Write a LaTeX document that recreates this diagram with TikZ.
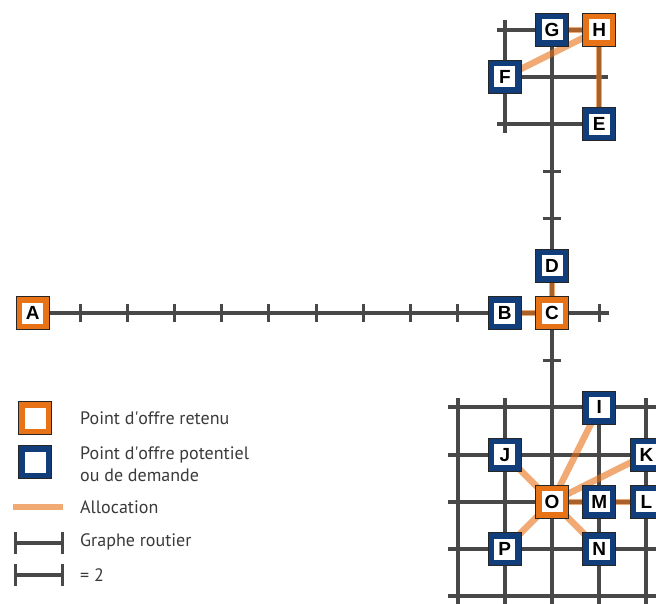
\documentclass[tikz,border=0pt]{standalone}
\usepackage{fontspec}
\setmainfont{PT Sans}
\newfontfamily\lettfont{Liberation Sans}
\definecolor{nodeorange}{RGB}{232,114,22}
\definecolor{nodeblue}{RGB}{17,61,122}
\definecolor{roadgray}{RGB}{72,72,72}
\definecolor{legtext}{RGB}{58,58,58}
\pgfdeclarelayer{roadlayer}
\pgfdeclarelayer{alloclayer}
\pgfsetlayers{roadlayer,alloclayer,main}
\tikzset{
  site/.style={rectangle, minimum size=33pt, inner sep=0pt, draw=black!85, line width=0.7pt,
    font=\lettfont\bfseries\fontsize{19}{19}\selectfont,
    path picture={\fill[white] ([shift={(-10.5pt,-10.5pt)}]path picture bounding box.center) rectangle ([shift={(10.5pt,10.5pt)}]path picture bounding box.center);}},
  retenu/.style={site, fill=nodeorange},
  potentiel/.style={site, fill=nodeblue},
  roadline/.style={draw=roadgray, line width=4pt},
  roadtick/.style={draw=roadgray, line width=3pt},
  alloc/.style={draw=nodeorange, line width=6.5pt, draw opacity=0.6},
  legtxt/.style={anchor=west, inner sep=0pt, text=legtext, font=\fontsize{18}{22}\selectfont, align=left},
}
\begin{document}
\begin{tikzpicture}[x=1pt,y=-1pt]
\useasboundingbox (0,0) rectangle (656,604);
\clip (0,0) rectangle (656,604);
\begin{scope}[xshift=552pt, yshift=-313pt, x=47.2pt, y=-47.2pt]
  % nodes
  \node[retenu] (A) at (-11,0) {A};
  \node[potentiel] (B) at (-1,0) {B};
  \node[retenu] (C) at (0,0) {C};
  \node[potentiel] (D) at (0,-1) {D};
  \node[potentiel] (E) at (1,-4) {E};
  \node[potentiel] (F) at (-1,-5) {F};
  \node[potentiel] (G) at (0,-6) {G};
  \node[retenu] (H) at (1,-6) {H};
  \node[potentiel] (I) at (1,2) {I};
  \node[potentiel] (J) at (-1,3) {J};
  \node[potentiel] (K) at (2,3) {K};
  \node[retenu] (O) at (0,4) {O};
  \node[potentiel] (M) at (1,4) {M};
  \node[potentiel] (L) at (2,4) {L};
  \node[potentiel] (P) at (-1,5) {P};
  \node[potentiel] (N) at (1,5) {N};
  % roads
  \begin{pgfonlayer}{roadlayer}
    \draw[roadline] (A.center) -- (1.21,0);
    \foreach \t in {-10,...,-2,1} \draw[roadtick] (\t,-0.2) -- (\t,0.2);
    \draw[roadline] (G.center) -- (0,6.3);
    \foreach \t in {-3,-2,1} \draw[roadtick] (-0.2,\t) -- (0.2,\t);
    % top grid
    \draw[roadline] (-1.17,-6) -- (H.center);
    \draw[roadline] (F.center) -- (1.19,-5);
    \draw[roadline] (-1.17,-4) -- (E.center);
    \draw[roadline] (-1,-6.2) -- (-1,-3.81);
    \draw[roadline] (H.center) -- (E.center);
    % lower grid
    \foreach \r in {2,...,6} \draw[roadline] (-2.2,\r) -- (2.4,\r);
    \foreach \c in {-2,-1,1,2} \draw[roadline] (\c,1.8) -- (\c,6.3);
  \end{pgfonlayer}
  % allocations
  \begin{pgfonlayer}{alloclayer}
    \draw[alloc] (C.center) -- (B.center);
    \draw[alloc] (C.center) -- (D.center);
    \draw[alloc] (H.center) -- (G.center);
    \draw[alloc] (H.center) -- (F.center);
    \draw[alloc] (H.center) -- (E.center);
    \draw[alloc] (O.center) -- (I.center);
    \draw[alloc] (O.center) -- (K.center);
    \draw[alloc] (O.center) -- (J.center);
    \draw[alloc] (O.center) -- (P.center);
    \draw[alloc] (O.center) -- (N.center);
    \draw[alloc] (O.center) -- (M.center);
    \draw[alloc] (M.center) -- (L.center);
  \end{pgfonlayer}
\end{scope}
% legend
\node[retenu] (legret) at (35,418) {};
\node[potentiel] (legpot) at (35,462) {};
\coordinate (alA) at (13,507);
\coordinate (alB) at (63,507);
\draw[alloc] (alA) -- (alB);
\coordinate (grA) at (15,543);
\coordinate (grB) at (62,543);
\draw[roadline] (grA) -- (grB);
\draw[roadtick] ([yshift=11pt]grA) -- ([yshift=-11pt]grA);
\draw[roadtick] ([yshift=11pt]grB) -- ([yshift=-11pt]grB);
\coordinate (scA) at (15,575);
\coordinate (scB) at (62,575);
\draw[roadline] (scA) -- (scB);
\draw[roadtick] ([yshift=11pt]scA) -- ([yshift=-11pt]scA);
\draw[roadtick] ([yshift=11pt]scB) -- ([yshift=-11pt]scB);
\node[legtxt] (t1) at (80,418) {Point d\textquotesingle offre retenu};
\node[legtxt] (t2) at (80,464) {Point d\textquotesingle offre potentiel\\ou de demande};
\node[legtxt] (t3) at (80,507) {Allocation};
\node[legtxt] (t4) at (80,542) {Graphe routier};
\node[legtxt] (t5) at (80,575) {= 2};
\end{tikzpicture}
\end{document}
